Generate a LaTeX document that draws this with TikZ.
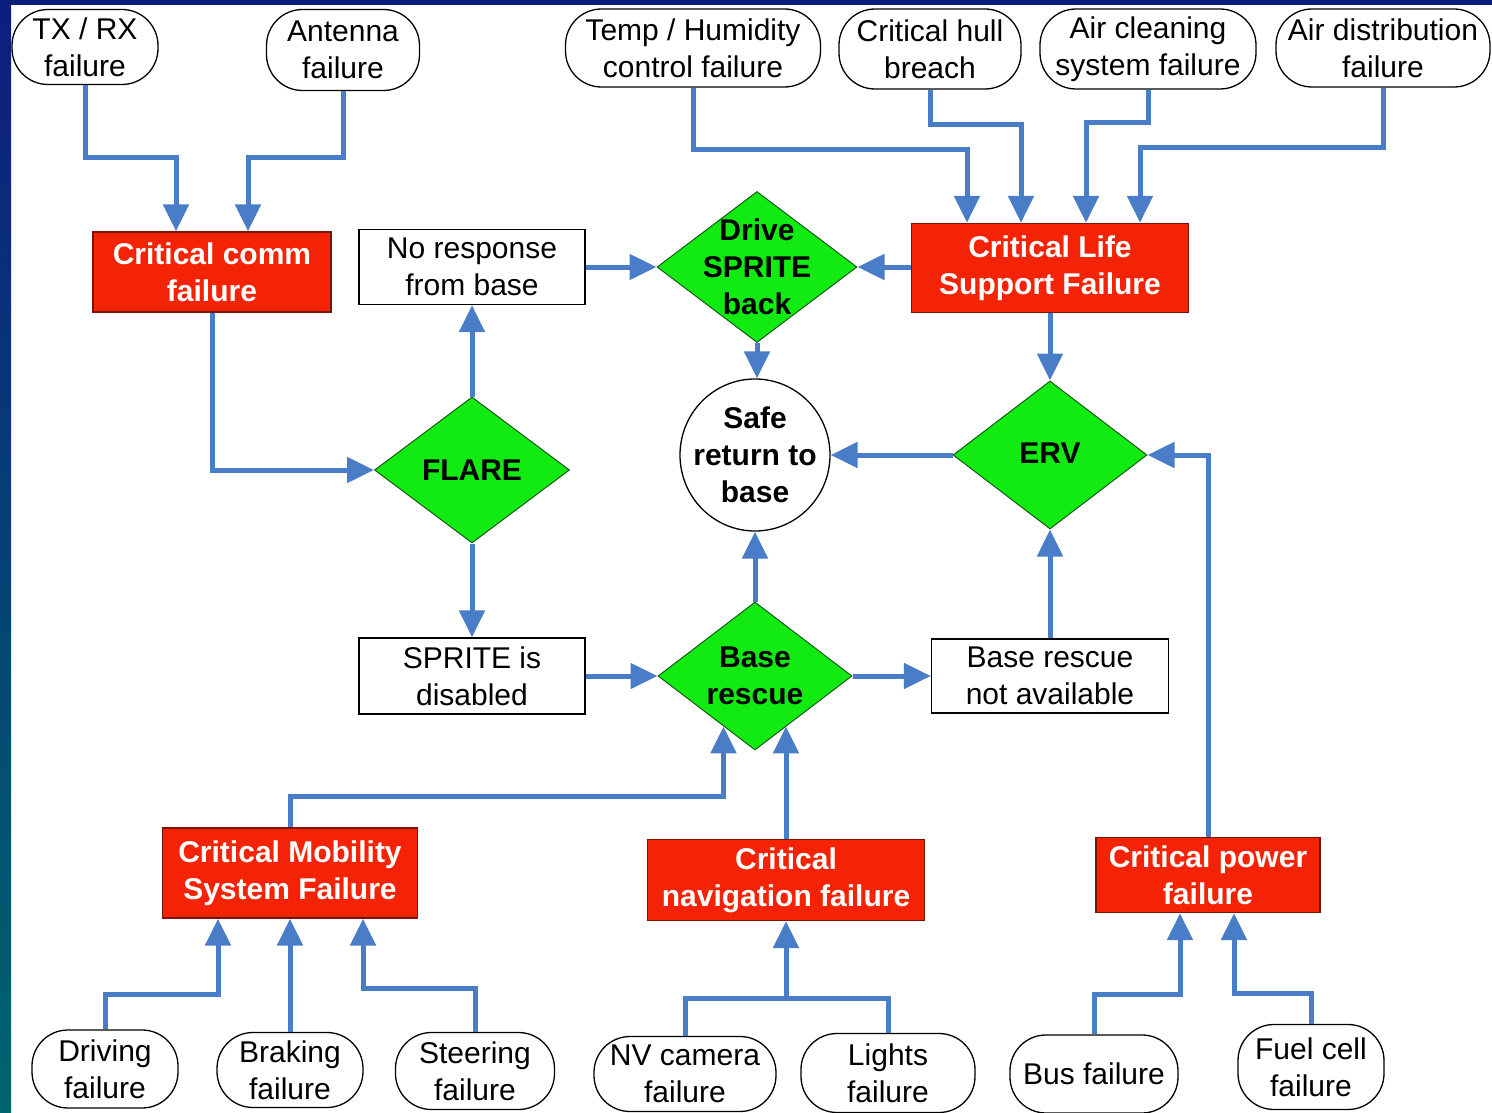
\documentclass[tikz,border=0pt]{standalone}
\usepackage{fontspec}
\setmainfont{Liberation Sans}
\usetikzlibrary{shapes.geometric,arrows.meta}
\definecolor{arrowblue}{RGB}{74,125,199}
\definecolor{redfill}{RGB}{245,35,5}
\definecolor{reddark}{RGB}{120,20,10}
\definecolor{greenfill}{RGB}{17,235,17}
\definecolor{greendark}{RGB}{20,90,20}
\definecolor{edgetop}{RGB}{12,30,125}
\definecolor{edgebot}{RGB}{0,100,110}
\begin{document}
\begin{tikzpicture}[x=1pt,y=-1pt,
  base/.style={align=center,inner sep=0pt,font=\fontsize{30}{37}\selectfont},
  oval/.style={base,rectangle,draw=black,line width=1.3pt,fill=white,rounded corners=36pt},
  redbox/.style={base,rectangle,draw=reddark,line width=1.3pt,fill=redfill,text=white,font=\fontsize{30}{37}\selectfont\bfseries},
  wbox/.style={base,rectangle,draw=black,line width=1.3pt,fill=white},
  dia/.style={diamond,draw=greendark,line width=1pt,fill=greenfill,inner sep=0pt},
  ell/.style={ellipse,draw=black,line width=1.3pt,fill=white,inner sep=0pt},
  btext/.style={base,font=\fontsize{30}{37}\selectfont\bfseries},
  conn/.style={draw=arrowblue,line width=5pt,-{Triangle[length=27pt,width=25pt]}},
  plainline/.style={draw=arrowblue,line width=5pt}]
\useasboundingbox (0,0) rectangle (1492,1113);
\fill[white] (0,0) rectangle (1492,1113);
\shade[top color=edgetop,bottom color=edgebot] (0,0) rectangle (11,1113);
\fill[edgetop] (0,0) rectangle (1492,5);

% top failures
\node[oval,minimum width=146pt,minimum height=75pt] (txrx) at (85,47) {TX / RX\\failure};
\node[oval,minimum width=153pt,minimum height=81pt] (ant) at (343,50) {Antenna\\failure};
\node[oval,minimum width=255pt,minimum height=78pt] (temp) at (693,48) {Temp / Humidity\\control failure};
\node[oval,minimum width=182pt,minimum height=80pt] (hull) at (930,49) {Critical hull\\breach};
\node[oval,minimum width=216pt,minimum height=80pt] (aircl) at (1148,49) {Air cleaning\\system failure};
\node[oval,minimum width=214pt,minimum height=78pt] (airds) at (1383,48) {Air distribution\\failure};

% red boxes
\node[redbox,minimum width=238pt,minimum height=80pt] (comm) at (212,272) {Critical comm\\failure};
\node[redbox,minimum width=277pt,minimum height=89pt] (life) at (1050,268) {Critical Life\\Support Failure};
\node[redbox,minimum width=255pt,minimum height=90pt] (mob) at (290,873) {Critical Mobility\\System Failure};
\node[redbox,minimum width=277pt,minimum height=81pt] (nav) at (786,880) {Critical\\navigation failure};
\node[redbox,minimum width=224pt,minimum height=75pt] (power) at (1208,875) {Critical power\\failure};

% white boxes
\node[wbox,minimum width=226pt,minimum height=75pt] (noresp) at (472,267) {No response\\from base};
\node[wbox,minimum width=226pt,minimum height=76pt] (disabled) at (472,676) {SPRITE is\\disabled};
\node[wbox,minimum width=237pt,minimum height=74pt] (nobase) at (1050,676) {Base rescue\\not available};

% diamonds
\node[dia,minimum width=200pt,minimum height=151pt] (drive) at (757,267) {};
\node[btext] (drive-t) at (drive) {Drive\\SPRITE\\back};
\node[dia,minimum width=195pt,minimum height=146pt] (flare) at (472,470) {};
\node[btext] (flare-t) at (flare) {FLARE};
\node[dia,minimum width=194pt,minimum height=148pt] (erv) at (1050,455) {};
\node[btext] (erv-t) at ([yshift=2pt]erv.center) {ERV};
\node[dia,minimum width=194pt,minimum height=148pt] (baseres) at (755,676) {};
\node[btext] (baseres-t) at (baseres) {Base\\rescue};

% goal
\node[ell,minimum width=150pt,minimum height=152pt] (safe) at (755,455) {};
\node[btext] (safe-t) at (safe) {Safe\\return to\\base};

% bottom failures
\node[oval,minimum width=146pt,minimum height=78pt] (driv) at (105,1069) {Driving\\failure};
\node[oval,minimum width=146pt,minimum height=75pt] (brak) at (290,1070) {Braking\\failure};
\node[oval,minimum width=159pt,minimum height=77pt] (steer) at (475,1071) {Steering\\failure};
\node[oval,minimum width=182pt,minimum height=75pt] (nv) at (685,1074) {NV camera\\failure};
\node[oval,minimum width=174pt,minimum height=79pt] (lights) at (888,1073) {Lights\\failure};
\node[oval,minimum width=168pt,minimum height=78pt] (bus) at (1094,1074) {Bus failure};
\node[oval,minimum width=146pt,minimum height=85pt] (fuel) at (1311,1067) {Fuel cell\\failure};

% connectors: top
\draw[conn] (txrx.south) -- ++(0,72) -| ([xshift=-36pt]comm.north);
\draw[conn] (ant.south) -- ++(0,66) -| ([xshift=36pt]comm.north);
\draw[conn] (temp.south) -- ++(0,62) -| ([xshift=-83pt]life.north);
\draw[conn] (hull.south) -- ++(0,35) -| ([xshift=-29pt]life.north);
\draw[conn] (aircl.south) -- ++(0,33) -| ([xshift=36pt]life.north);
\draw[conn] (airds.south) -- ++(0,60) -| ([xshift=90pt]life.north);

% middle
\draw[conn] (life.west |- drive.east) -- (drive.east);
\draw[conn] (noresp.east) -- (drive.west);
\draw[conn] (drive.south) -- (drive.south |- safe.north);
\draw[conn] (life.south) -- (erv.north);
\draw[conn] (erv.west) -- (safe.east);
\draw[conn] (power.north) |- (erv.east);
\draw[conn] (comm.south) |- (flare.west);
\draw[conn] (flare.north) -- (noresp.south);
\draw[conn] (flare.south) -- (disabled.north);
\draw[conn] (disabled.east) -- (baseres.west);
\draw[conn] (baseres.east) -- (nobase.west);
\draw[conn] (nobase.north) -- (erv.south);
\draw[conn] (baseres.north) -- (safe.south);
\draw[conn] (mob.north) -- ++(0,-31) -| (baseres.238);
\draw[conn] (nav.north) -- (nav.north |- baseres.302);

% bottom
\draw[conn] (driv.north) -- ++(0,-35) -| ([xshift=-72pt]mob.south);
\draw[conn] (brak.north) -- (mob.south);
\draw[conn] (steer.north) -- ++(0,-43) -| ([xshift=73pt]mob.south);
\path (nav.south) ++(0,77) coordinate (navj);
\draw[conn] (nv.north) |- (navj) -- (nav.south);
\draw[plainline] (lights.north) |- (navj);
\draw[conn] (bus.north) -- ++(0,-40) -| ([xshift=-28pt]power.south);
\draw[conn] (fuel.north) -- ++(0,-30) -| ([xshift=26pt]power.south);
\end{tikzpicture}
\end{document}
